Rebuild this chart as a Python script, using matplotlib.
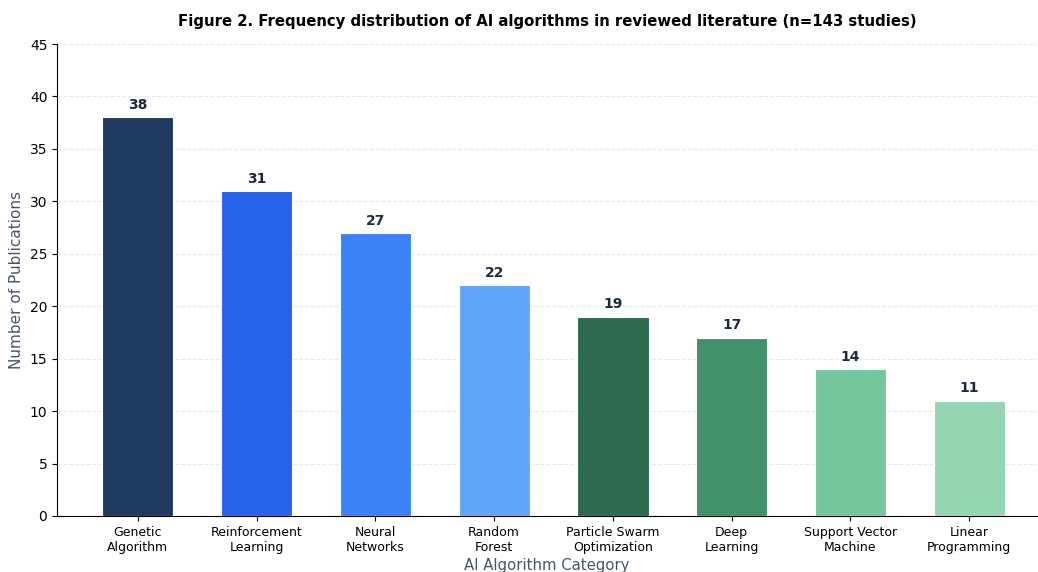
import matplotlib
matplotlib.use("Agg")
import matplotlib.pyplot as plt

categories = [
    "Genetic\nAlgorithm",
    "Reinforcement\nLearning",
    "Neural\nNetworks",
    "Random\nForest",
    "Particle Swarm\nOptimization",
    "Deep\nLearning",
    "Support Vector\nMachine",
    "Linear\nProgramming",
]
counts = [38, 31, 27, 22, 19, 17, 14, 11]
colors = ["#1e3a5f", "#2563eb", "#3b82f6", "#60a5fa",
          "#2d6a4f", "#40916c", "#74c69d", "#95d5b2"]

fig = plt.figure(figsize=(10.38, 5.72), dpi=100)
ax = fig.add_axes([0.055, 0.098, 0.944, 0.825])

x = range(len(categories))
bars = ax.bar(x, counts, width=0.6, color=colors, edgecolor="white", linewidth=0.8, zorder=3)
for bar, val in zip(bars, counts):
    ax.text(bar.get_x() + bar.get_width() / 2, val + 0.5, str(val),
            ha="center", va="bottom", fontsize=10, fontweight="bold", color="#1e293b")

ax.set_xticks(list(x))
ax.set_xticklabels(categories, fontsize=9)
ax.set_xlim(-0.68, 7.57)
ax.set_ylim(0, 45)
ax.set_yticks(range(0, 46, 5))
ax.tick_params(axis="y", labelsize=10)
ax.set_ylabel("Number of Publications", fontsize=11, color="#475569")
ax.set_xlabel("AI Algorithm Category", fontsize=10.7, color="#475569", labelpad=3)
ax.set_title("Figure 2. Frequency distribution of AI algorithms in reviewed literature (n=143 studies)",
             fontsize=10.7, fontweight="bold", pad=13)
ax.grid(axis="y", linestyle="--", alpha=0.5, color="#cbd5e1", zorder=0)
ax.spines["top"].set_visible(False)
ax.spines["right"].set_visible(False)

fig.savefig("out.png", dpi=100)
